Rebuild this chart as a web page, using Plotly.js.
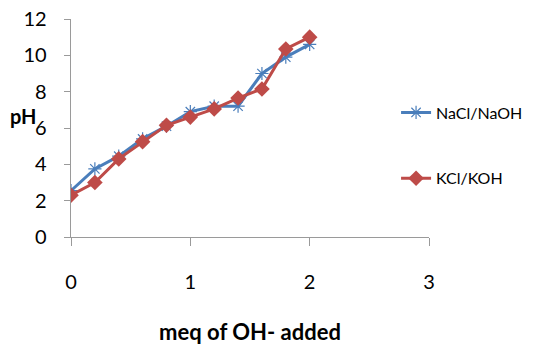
<!DOCTYPE html>
<html><head><meta charset="utf-8">
<script src="https://cdn.plot.ly/plotly-3.0.1.min.js"></script>
<style>html,body{margin:0;padding:0;background:#fff}#c{width:536px;height:345px}</style>
</head><body><div id="c"></div>
<script>
const xValues = [0, 0.2, 0.4, 0.6, 0.8, 1.0, 1.2, 1.4, 1.6, 1.8, 2.0];
const naclNaoh = [2.55, 3.75, 4.45, 5.4, 6.1, 6.9, 7.2, 7.2, 9.0, 9.9, 10.6];
const kclKoh = [2.3, 3.0, 4.3, 5.25, 6.15, 6.6, 7.05, 7.65, 8.15, 10.35, 11.0];
const seriesNames = ["NaCl/NaOH", "KCl/KOH"];
const xTicks = [0, 1, 2, 3];
const yTicks = [0, 2, 4, 6, 8, 10, 12];

const font = "Lato, 'Open Sans', sans-serif";
const traces = [
  {x: xValues, y: naclNaoh, name: seriesNames[0], type: "scatter", mode: "lines+markers",
   line: {color: "#4a7ebb", width: 3},
   marker: {symbol: "asterisk-open", size: 11, color: "#4a7ebb", line: {color: "#4a7ebb", width: 1.2}},
   legendgroup: "a"},
  {x: xValues, y: kclKoh, name: seriesNames[1], type: "scatter", mode: "lines+markers",
   line: {color: "#be4b48", width: 3},
   marker: {symbol: "diamond", size: 12, color: "#be4b48"},
   legendgroup: "b"}
];
const layout = {
  width: 536, height: 345,
  margin: {l: 71, r: 107, t: 19, b: 108, autoexpand: false},
  paper_bgcolor: "#fff", plot_bgcolor: "#fff",
  font: {family: font, size: 16, color: "#000"},
  xaxis: {range: [0, 3], tickvals: xTicks, showgrid: false, zeroline: false,
          showline: true, linecolor: "#9a9a9a", linewidth: 1.3, ticks: "outside", ticklen: 8,
          tickcolor: "#9a9a9a", tickfont: {size: 20, family: font}, automargin: false,
          ticklabelstandoff: 19,
          title: {text: "<b>meq of OH- added</b>", font: {size: 22, family: font}, standoff: 33}},
  yaxis: {range: [0, 12], tickvals: yTicks, showgrid: false, zeroline: false, automargin: false,
          showline: true, linecolor: "#9a9a9a", linewidth: 1.3, ticks: "outside", ticklen: 6,
          tickcolor: "#9a9a9a", tickfont: {size: 20, family: font}, ticklabelstandoff: 13},
  legend: {x: 0.908, y: 0.649, xanchor: "left", yanchor: "top", tracegroupgap: 42,
           font: {size: 16, family: font}, bgcolor: "rgba(0,0,0,0)"},
  annotations: [{text: "<b>pH</b>", xref: "paper", yref: "paper", x: -0.176, y: 0.555,
                 xanchor: "left", yanchor: "middle", showarrow: false, font: {size: 20, family: font}}]
};
Plotly.newPlot("c", traces, layout, {staticPlot: true});
</script></body></html>
